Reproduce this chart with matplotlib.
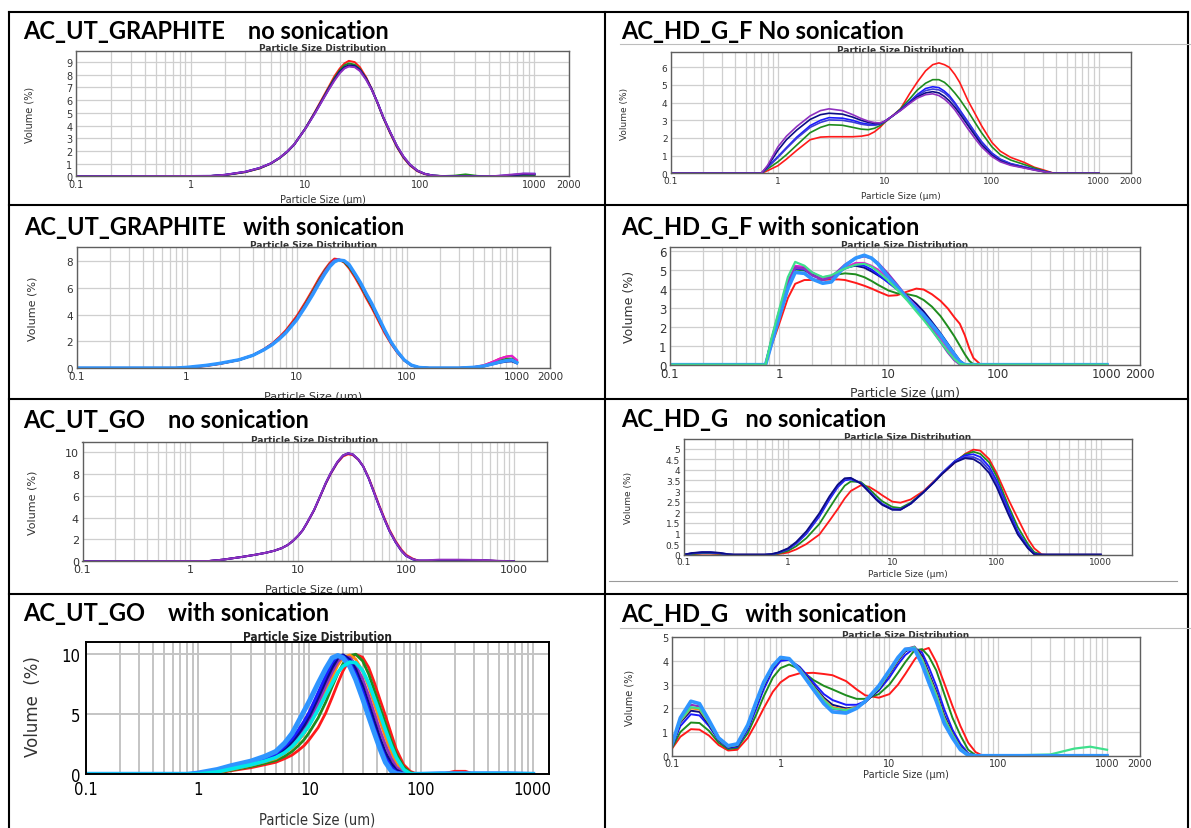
import matplotlib.pyplot as plt
from matplotlib.lines import Line2D
from matplotlib.ticker import FixedLocator, FuncFormatter, NullFormatter
from matplotlib.transforms import Bbox, TransformedBbox

# ---- AC_UT_GRAPHITE, no sonication -------------------------------------
g1 = [0.1, 1.5, 2, 3, 4, 5, 6, 7, 8, 10,
      12, 14, 16, 18, 20, 22, 24, 27, 30, 34,
      38, 43, 48, 55, 63, 72, 82, 95, 110, 130,
      160, 200, 250, 320, 450, 600, 800, 1000]
p1_red = [0, 0.02, 0.1, 0.33, 0.62, 1.0, 1.45, 1.95, 2.5, 3.75,
          5.0, 6.1, 7.05, 7.9, 8.5, 8.9, 9.1, 9.0, 8.6, 7.8,
          6.9, 5.7, 4.6, 3.4, 2.3, 1.45, 0.85, 0.4, 0.17, 0.05,
          0.01, 0, 0, 0, 0, 0, 0, 0]
p1_green = [0, 0.02, 0.1, 0.33, 0.63, 1.0, 1.45, 1.95, 2.5, 3.75,
            4.95, 6.0, 6.95, 7.75, 8.35, 8.75, 8.9, 8.8, 8.45, 7.7,
            6.85, 5.7, 4.6, 3.45, 2.35, 1.5, 0.9, 0.45, 0.2, 0.06,
            0.02, 0.05, 0.15, 0.03, 0, 0.02, 0.1, 0.1]
p1_blue = [0, 0.03, 0.12, 0.36, 0.66, 1.02, 1.47, 1.97, 2.5, 3.75,
           4.9, 5.95, 6.85, 7.6, 8.2, 8.55, 8.7, 8.65, 8.35, 7.65,
           6.85, 5.75, 4.65, 3.5, 2.4, 1.55, 0.92, 0.45, 0.2, 0.06,
           0.01, 0, 0, 0, 0.01, 0.08, 0.2, 0.2]
p1_navy = [0, 0.03, 0.11, 0.35, 0.65, 1.01, 1.46, 1.96, 2.5, 3.76,
           4.93, 5.98, 6.9, 7.65, 8.25, 8.6, 8.75, 8.7, 8.4, 7.7,
           6.87, 5.74, 4.63, 3.48, 2.38, 1.52, 0.9, 0.44, 0.19, 0.05,
           0.01, 0, 0, 0, 0, 0.05, 0.15, 0.15]
p1_purple = [0, 0.03, 0.12, 0.36, 0.66, 1.02, 1.47, 1.97, 2.5, 3.74,
             4.88, 5.92, 6.82, 7.55, 8.12, 8.5, 8.65, 8.6, 8.3, 7.6,
             6.82, 5.74, 4.65, 3.5, 2.42, 1.56, 0.93, 0.46, 0.2, 0.06,
             0.01, 0, 0, 0, 0.02, 0.12, 0.22, 0.2]

# ---- AC_HD_G_F, no sonication ------------------------------------------
g2 = [0.1, 0.7, 0.8, 1, 1.2, 1.5, 2, 2.5, 3, 4,
      5, 6, 7, 8, 9, 10, 12, 14, 17, 20,
      24, 28, 32, 36, 40, 45, 50, 60, 70, 80,
      100, 120, 150, 200, 250, 300, 380, 1000]
p2_red = [0, 0, 0.15, 0.43, 0.8, 1.3, 1.9, 2.05, 2.07, 2.07,
          2.07, 2.1, 2.17, 2.35, 2.6, 2.89, 3.3, 3.65, 4.5, 5.15,
          5.8, 6.15, 6.25, 6.15, 6.0, 5.6, 5.15, 4.1, 3.35, 2.7,
          1.75, 1.25, 0.9, 0.62, 0.34, 0.2, 0, 0]
p2_green = [0, 0, 0.25, 0.65, 1.05, 1.6, 2.3, 2.6, 2.75, 2.72,
            2.6, 2.5, 2.47, 2.55, 2.7, 2.9, 3.28, 3.65, 4.2, 4.7,
            5.1, 5.3, 5.3, 5.15, 4.9, 4.55, 4.2, 3.5, 2.85, 2.3,
            1.5, 1.05, 0.75, 0.5, 0.3, 0.15, 0, 0]
p2_blue = [0, 0, 0.35, 0.95, 1.45, 2.05, 2.7, 3.0, 3.15, 3.12,
           3.0, 2.85, 2.78, 2.75, 2.8, 2.95, 3.28, 3.6, 4.05, 4.45,
           4.8, 4.9, 4.85, 4.65, 4.4, 4.0, 3.6, 2.9, 2.3, 1.8,
           1.15, 0.8, 0.55, 0.37, 0.22, 0.12, 0, 0]
p2_royal = [0, 0, 0.33, 0.9, 1.4, 1.98, 2.6, 2.88, 3.02, 3.0,
            2.9, 2.78, 2.72, 2.72, 2.78, 2.93, 3.28, 3.58, 4.0, 4.38,
            4.68, 4.77, 4.72, 4.55, 4.3, 3.92, 3.52, 2.85, 2.25, 1.75,
            1.1, 0.77, 0.53, 0.36, 0.21, 0.11, 0, 0]
p2_navy = [0, 0, 0.4, 1.3, 1.9, 2.45, 3.05, 3.32, 3.4, 3.35,
           3.18, 3.0, 2.88, 2.82, 2.82, 2.95, 3.28, 3.57, 3.98, 4.32,
           4.55, 4.62, 4.55, 4.35, 4.1, 3.75, 3.38, 2.7, 2.12, 1.62,
           1.02, 0.7, 0.48, 0.32, 0.19, 0.1, 0, 0]
p2_purple = [0, 0, 0.45, 1.5, 2.1, 2.65, 3.25, 3.55, 3.65, 3.55,
             3.32, 3.1, 2.95, 2.87, 2.85, 2.95, 3.28, 3.55, 3.95, 4.25,
             4.45, 4.5, 4.4, 4.2, 3.95, 3.6, 3.2, 2.5, 1.95, 1.5,
             0.95, 0.65, 0.45, 0.3, 0.18, 0.1, 0, 0]

# ---- AC_UT_GRAPHITE, with sonication -----------------------------------
g3 = [0.1, 0.8, 1, 1.5, 2, 3, 4, 5, 6, 7,
      8, 10, 12, 14, 16, 18, 20, 22, 24, 27,
      30, 34, 38, 43, 48, 55, 63, 72, 82, 95,
      110, 130, 160, 200, 300, 400, 500, 600, 700, 800,
      900, 1000]
p3_red = [0, 0, 0.02, 0.15, 0.3, 0.6, 0.95, 1.4, 1.85, 2.35,
          2.85, 3.9, 4.95, 5.9, 6.75, 7.4, 7.9, 8.2, 8.15, 7.9,
          7.45, 6.75, 6.05, 5.2, 4.5, 3.55, 2.6, 1.8, 1.15, 0.55,
          0.2, 0.04, 0, 0, 0, 0.05, 0.2, 0.45, 0.7, 0.85,
          0.9, 0.55]
p3_green = [0, 0, 0.03, 0.17, 0.32, 0.6, 0.93, 1.35, 1.8, 2.28,
            2.75, 3.75, 4.8, 5.75, 6.6, 7.3, 7.8, 8.1, 8.12, 7.95,
            7.55, 6.9, 6.2, 5.35, 4.65, 3.7, 2.75, 1.9, 1.2, 0.58,
            0.2, 0.04, 0, 0, 0, 0.04, 0.15, 0.35, 0.55, 0.68,
            0.7, 0.45]
p3_navy = [0, 0, 0.03, 0.18, 0.33, 0.62, 0.96, 1.38, 1.8, 2.25,
           2.7, 3.68, 4.7, 5.62, 6.48, 7.2, 7.72, 8.05, 8.12, 8.0,
           7.65, 6.98, 6.3, 5.45, 4.72, 3.75, 2.78, 1.9, 1.2, 0.58,
           0.2, 0.03, 0, 0, 0, 0.03, 0.12, 0.28, 0.4, 0.48,
           0.5, 0.35]
p3_magenta = [0, 0, 0.03, 0.18, 0.33, 0.61, 0.95, 1.37, 1.8, 2.27,
              2.72, 3.7, 4.72, 5.65, 6.5, 7.22, 7.75, 8.08, 8.15, 8.02,
              7.68, 7.0, 6.32, 5.48, 4.78, 3.8, 2.82, 1.93, 1.22, 0.6,
              0.21, 0.04, 0, 0, 0, 0.05, 0.2, 0.45, 0.7, 0.85,
              0.92, 0.6]
p3_teal = [0, 0, 0.04, 0.19, 0.34, 0.62, 0.95, 1.36, 1.77, 2.22,
           2.68, 3.64, 4.65, 5.57, 6.42, 7.12, 7.66, 8.0, 8.1, 8.02,
           7.7, 7.02, 6.36, 5.52, 4.82, 3.82, 2.84, 1.94, 1.24, 0.6,
           0.22, 0.04, 0, 0, 0, 0.04, 0.14, 0.3, 0.45, 0.58,
           0.62, 0.42]
p3_sky = [0, 0, 0.05, 0.2, 0.35, 0.62, 0.95, 1.35, 1.75, 2.2,
          2.65, 3.6, 4.6, 5.5, 6.35, 7.05, 7.6, 7.95, 8.1, 8.05,
          7.75, 7.05, 6.4, 5.55, 4.85, 3.85, 2.85, 1.95, 1.25, 0.6,
          0.22, 0.04, 0, 0, 0, 0.05, 0.15, 0.3, 0.45, 0.55,
          0.6, 0.4]

# ---- AC_HD_G_F, with sonication ----------------------------------------
g4 = [0.1, 0.75, 0.85, 1, 1.2, 1.4, 1.7, 2, 2.5, 3,
      3.5, 4, 5, 6, 7, 8, 10, 12, 15, 18,
      21, 25, 30, 35, 40, 45, 50, 55, 60, 70,
      1000]
p4_red = [0, 0, 1.0, 2.15, 3.5, 4.25, 4.45, 4.45, 4.45, 4.48,
          4.48, 4.45, 4.3, 4.15, 4.0, 3.85, 3.62, 3.65, 3.85, 4.0,
          3.95, 3.7, 3.35, 2.95, 2.5, 2.15, 1.55, 0.85, 0.35, 0,
          0]
p4_green = [0, 0, 1.3, 2.7, 4.2, 5.0, 4.95, 4.75, 4.6, 4.65,
            4.75, 4.8, 4.75, 4.6, 4.4, 4.2, 3.9, 3.75, 3.7, 3.6,
            3.4, 3.05, 2.55, 2.0, 1.5, 1.0, 0.55, 0.2, 0.02, 0,
            0]
p4_lime = [0, 0, 1.4, 2.9, 4.6, 5.4, 5.2, 4.85, 4.6, 4.7,
           4.9, 5.05, 5.25, 5.3, 5.15, 4.9, 4.4, 3.95, 3.35, 2.8,
           2.35, 1.8, 1.2, 0.7, 0.3, 0.05, 0, 0, 0, 0,
           0]
p4_blue = [0, 0, 1.3, 2.75, 4.3, 5.05, 5.0, 4.7, 4.5, 4.6,
           4.85, 5.05, 5.25, 5.2, 5.0, 4.75, 4.3, 3.95, 3.5, 3.05,
           2.65, 2.1, 1.5, 0.95, 0.5, 0.15, 0, 0, 0, 0,
           0]
p4_navy = [0, 0, 1.25, 2.7, 4.3, 5.15, 5.1, 4.8, 4.55, 4.65,
           4.9, 5.1, 5.2, 5.1, 4.9, 4.7, 4.35, 4.0, 3.6, 3.2,
           2.8, 2.25, 1.65, 1.1, 0.62, 0.22, 0.02, 0, 0, 0,
           0]
p4_magenta = [0, 0, 1.2, 2.65, 4.2, 5.2, 5.15, 4.85, 4.55, 4.6,
              4.85, 5.1, 5.35, 5.35, 5.2, 5.0, 4.55, 4.1, 3.55, 3.05,
              2.6, 2.0, 1.4, 0.85, 0.4, 0.08, 0, 0, 0, 0,
              0]
p4_purple = [0, 0, 1.3, 2.8, 4.35, 5.1, 5.05, 4.7, 4.45, 4.6,
             4.95, 5.25, 5.6, 5.7, 5.6, 5.35, 4.75, 4.2, 3.5, 2.95,
             2.45, 1.85, 1.2, 0.65, 0.25, 0.02, 0, 0, 0, 0,
             0]
p4_sky = [0, 0, 1.1, 2.5, 4.0, 4.85, 4.8, 4.5, 4.28, 4.35,
          4.8, 5.2, 5.6, 5.75, 5.6, 5.3, 4.6, 4.1, 3.45, 2.95,
          2.6, 2.1, 1.55, 1.0, 0.55, 0.15, 0, 0, 0, 0,
          0]

# ---- AC_UT_GO, no sonication -------------------------------------------
g5 = [0.1, 1.5, 2, 3, 4, 5, 6, 7, 8, 9,
      10, 11, 12, 14, 16, 18, 20, 23, 26, 29,
      32, 36, 40, 45, 50, 56, 63, 70, 80, 90,
      100, 115, 130, 160, 200, 300, 500, 700, 1000]
p5_red = [0, 0.03, 0.15, 0.4, 0.6, 0.78, 0.97, 1.2, 1.5, 1.9,
          2.35, 2.85, 3.45, 4.65, 5.95, 7.1, 8.0, 9.0, 9.6, 9.8,
          9.72, 9.3, 8.7, 7.65, 6.5, 5.2, 3.95, 2.9, 1.85, 1.1,
          0.6, 0.25, 0.05, 0.02, 0.08, 0.1, 0.08, 0.03, 0]
p5_blue = [0, 0.03, 0.15, 0.4, 0.6, 0.78, 0.97, 1.2, 1.5, 1.9,
           2.35, 2.85, 3.48, 4.68, 5.98, 7.15, 8.05, 9.05, 9.68, 9.88,
           9.78, 9.32, 8.68, 7.58, 6.38, 5.08, 3.83, 2.78, 1.73, 0.98,
           0.49, 0.18, 0.05, 0.05, 0.1, 0.12, 0.08, 0.02, 0]
p5_navy = [0, 0.03, 0.15, 0.4, 0.6, 0.78, 0.97, 1.2, 1.5, 1.9,
           2.35, 2.85, 3.49, 4.69, 5.99, 7.18, 8.08, 9.08, 9.7, 9.9,
           9.8, 9.34, 8.69, 7.59, 6.39, 5.09, 3.84, 2.79, 1.74, 0.99,
           0.5, 0.19, 0.06, 0.06, 0.1, 0.12, 0.1, 0.03, 0]
p5_purple = [0, 0.03, 0.15, 0.4, 0.6, 0.78, 0.97, 1.2, 1.5, 1.9,
             2.35, 2.85, 3.5, 4.7, 6.0, 7.2, 8.1, 9.1, 9.7, 9.9,
             9.8, 9.35, 8.7, 7.6, 6.4, 5.1, 3.85, 2.8, 1.75, 1.0,
             0.5, 0.2, 0.08, 0.1, 0.15, 0.15, 0.12, 0.05, 0]

# ---- AC_HD_G, no sonication --------------------------------------------
g6 = [0.1, 0.12, 0.15, 0.18, 0.22, 0.27, 0.3, 0.6, 0.7, 0.8,
      1, 1.2, 1.5, 2, 2.5, 3, 3.5, 4, 5, 6,
      7, 8, 10, 12, 15, 20, 25, 30, 40, 50,
      60, 70, 85, 100, 130, 160, 200, 230, 270, 300,
      1000]
p6_red = [0, 0.02, 0.05, 0.05, 0.03, 0, 0, 0, 0, 0.03,
          0.1, 0.25, 0.5, 0.95, 1.6, 2.15, 2.65, 3.0, 3.27, 3.2,
          3.0, 2.8, 2.5, 2.45, 2.6, 3.0, 3.45, 3.8, 4.35, 4.75,
          4.95, 4.9, 4.5, 3.85, 2.6, 1.7, 0.75, 0.3, 0.02, 0,
          0]
p6_green = [0, 0.03, 0.07, 0.07, 0.05, 0.01, 0, 0, 0.01, 0.05,
            0.18, 0.4, 0.78, 1.45, 2.2, 2.8, 3.25, 3.45, 3.42, 3.1,
            2.78, 2.52, 2.25, 2.2, 2.45, 2.95, 3.42, 3.82, 4.4, 4.72,
            4.85, 4.75, 4.35, 3.7, 2.3, 1.3, 0.5, 0.12, 0, 0,
            0]
p6_blue = [0, 0.06, 0.1, 0.1, 0.07, 0.01, 0, 0, 0.02, 0.08,
           0.25, 0.52, 0.98, 1.8, 2.6, 3.18, 3.5, 3.55, 3.38, 3.0,
           2.65, 2.4, 2.15, 2.13, 2.4, 2.95, 3.42, 3.85, 4.42, 4.68,
           4.73, 4.6, 4.15, 3.5, 2.15, 1.1, 0.38, 0.05, 0, 0,
           0]
p6_royal = [0, 0.07, 0.11, 0.11, 0.08, 0.02, 0, 0, 0.03, 0.09,
            0.28, 0.56, 1.04, 1.88, 2.68, 3.25, 3.56, 3.6, 3.37, 2.98,
            2.62, 2.37, 2.13, 2.12, 2.4, 2.95, 3.41, 3.82, 4.38, 4.6,
            4.6, 4.45, 4.0, 3.35, 2.0, 1.0, 0.33, 0.03, 0, 0,
            0]
p6_navy = [0, 0.08, 0.12, 0.12, 0.09, 0.02, 0, 0, 0.03, 0.1,
           0.3, 0.6, 1.1, 1.95, 2.75, 3.3, 3.6, 3.62, 3.35, 2.95,
           2.6, 2.35, 2.12, 2.12, 2.4, 2.95, 3.4, 3.8, 4.35, 4.55,
           4.5, 4.3, 3.85, 3.2, 1.9, 0.95, 0.3, 0.02, 0, 0,
           0]

# ---- AC_UT_GO, with sonication -----------------------------------------
g7 = [0.1, 0.8, 1, 1.5, 2, 3, 4, 5, 6, 7,
      8, 9, 10, 12, 14, 16, 18, 20, 23, 26,
      30, 34, 38, 43, 48, 54, 60, 70, 80, 90,
      100, 150, 200, 250, 300, 600, 1000]
p7_red = [0, 0, 0, 0.1, 0.3, 0.55, 0.8, 1.0, 1.3, 1.6,
          2.0, 2.4, 2.9, 3.9, 5.1, 6.4, 7.6, 8.6, 9.6, 10.0,
          9.75, 8.9, 7.7, 6.2, 4.9, 3.4, 2.1, 0.8, 0.25, 0.05,
          0, 0, 0.25, 0.25, 0, 0, 0]
p7_green = [0, 0, 0, 0.12, 0.35, 0.65, 0.92, 1.15, 1.5, 1.9,
            2.4, 2.9, 3.5, 4.7, 6.0, 7.3, 8.4, 9.2, 9.9, 10.0,
            9.45, 8.35, 7.05, 5.55, 4.25, 2.8, 1.7, 0.6, 0.15, 0.02,
            0, 0, 0, 0, 0, 0, 0]
p7_orange = [0, 0, 0, 0.15, 0.4, 0.75, 1.05, 1.3, 1.75, 2.2,
             2.8, 3.4, 4.1, 5.5, 6.9, 8.1, 9.1, 9.7, 9.95, 9.6,
             8.6, 7.3, 5.9, 4.4, 3.1, 1.85, 0.95, 0.25, 0.03, 0,
             0, 0, 0, 0, 0, 0, 0]
p7_purple = [0, 0, 0.03, 0.2, 0.45, 0.8, 1.1, 1.4, 1.9, 2.45,
             3.1, 3.75, 4.45, 5.95, 7.35, 8.5, 9.4, 9.8, 9.75, 9.15,
             7.95, 6.55, 5.15, 3.65, 2.45, 1.35, 0.62, 0.12, 0, 0,
             0, 0, 0, 0, 0, 0, 0]
p7_navy = [0, 0, 0.05, 0.25, 0.5, 0.85, 1.2, 1.55, 2.1, 2.7,
           3.4, 4.1, 4.85, 6.4, 7.8, 8.9, 9.7, 9.95, 9.55, 8.75,
           7.35, 5.85, 4.45, 2.95, 1.8, 0.9, 0.35, 0.05, 0, 0,
           0, 0, 0, 0, 0, 0, 0]
p7_blue = [0, 0, 0.07, 0.3, 0.6, 0.95, 1.3, 1.7, 2.3, 2.95,
           3.7, 4.45, 5.2, 6.8, 8.2, 9.3, 9.9, 9.85, 9.35, 8.35,
           6.9, 5.35, 3.9, 2.5, 1.4, 0.6, 0.2, 0, 0, 0,
           0, 0, 0, 0, 0, 0, 0]
p7_sky = [0, 0, 0.1, 0.4, 0.72, 1.1, 1.5, 1.9, 2.6, 3.4,
          4.4, 5.3, 6.1, 7.6, 8.8, 9.7, 9.9, 9.7, 9.0, 7.9,
          6.3, 4.8, 3.5, 2.1, 1.0, 0.3, 0.05, 0, 0, 0,
          0, 0.05, 0.05, 0.05, 0.05, 0.05, 0]
p7_cyan = [0, 0, 0.02, 0.2, 0.45, 0.8, 1.1, 1.4, 1.8, 2.3,
           2.9, 3.5, 4.1, 5.4, 6.6, 7.6, 8.5, 9.0, 9.35, 9.3,
           8.65, 7.6, 6.4, 5.0, 3.7, 2.4, 1.4, 0.4, 0.05, 0,
           0, 0, 0, 0, 0, 0, 0]

# ---- AC_HD_G, with sonication ------------------------------------------
g8 = [0.1, 0.12, 0.15, 0.18, 0.22, 0.27, 0.33, 0.4, 0.5, 0.6,
      0.7, 0.85, 1, 1.2, 1.5, 2, 2.5, 3, 4, 5,
      6, 8, 10, 12, 14, 17, 20, 23, 27, 32,
      38, 45, 53, 62, 72, 100, 300, 500, 700, 1000]
p8_red = [0.28, 0.8, 1.12, 1.1, 0.85, 0.45, 0.22, 0.25, 0.75, 1.4,
          2.0, 2.7, 3.1, 3.35, 3.48, 3.5, 3.45, 3.4, 3.15, 2.8,
          2.55, 2.45, 2.6, 3.0, 3.45, 4.05, 4.45, 4.55, 3.95, 3.05,
          2.1, 1.25, 0.55, 0.15, 0, 0, 0, 0, 0, 0]
p8_green = [0.3, 1.0, 1.4, 1.38, 1.05, 0.55, 0.28, 0.33, 0.95, 1.75,
            2.5, 3.3, 3.7, 3.85, 3.65, 3.2, 2.95, 2.8, 2.55, 2.4,
            2.4, 2.6, 3.0, 3.5, 3.95, 4.45, 4.5, 4.2, 3.6, 2.6,
            1.6, 0.85, 0.25, 0.02, 0, 0, 0, 0, 0, 0]
p8_blue = [0.35, 1.25, 1.75, 1.7, 1.25, 0.65, 0.33, 0.38, 1.1, 2.0,
           2.8, 3.6, 4.0, 4.05, 3.75, 3.1, 2.6, 2.35, 2.15, 2.15,
           2.3, 2.75, 3.3, 3.85, 4.25, 4.55, 4.35, 3.75, 2.95, 1.95,
           1.1, 0.5, 0.1, 0, 0, 0, 0, 0, 0, 0]
p8_navy = [0.38, 1.4, 1.9, 1.85, 1.32, 0.68, 0.36, 0.42, 1.2, 2.15,
           2.95, 3.7, 4.1, 4.08, 3.7, 2.98, 2.45, 2.15, 2.0, 2.05,
           2.25, 2.8, 3.45, 4.0, 4.4, 4.6, 4.2, 3.5, 2.7, 1.7,
           0.95, 0.38, 0.06, 0, 0, 0, 0, 0, 0, 0]
p8_orange = [0.4, 1.45, 2.0, 1.95, 1.38, 0.7, 0.38, 0.45, 1.22, 2.2,
             3.0, 3.75, 4.12, 4.1, 3.68, 2.92, 2.38, 2.05, 1.95, 2.05,
             2.28, 2.85, 3.5, 4.05, 4.45, 4.6, 4.1, 3.4, 2.6, 1.6,
             0.9, 0.33, 0.05, 0, 0, 0, 0, 0, 0, 0]
p8_purple = [0.42, 1.5, 2.15, 2.08, 1.42, 0.72, 0.4, 0.47, 1.25, 2.25,
             3.05, 3.78, 4.15, 4.1, 3.65, 2.88, 2.3, 1.98, 1.9, 2.02,
             2.28, 2.88, 3.55, 4.1, 4.5, 4.6, 4.05, 3.3, 2.5, 1.5,
             0.85, 0.3, 0.04, 0, 0, 0, 0, 0, 0, 0]
p8_lime = [0.4, 1.48, 2.05, 2.0, 1.4, 0.71, 0.39, 0.46, 1.24, 2.22,
           3.02, 3.76, 4.13, 4.1, 3.66, 2.9, 2.34, 2.0, 1.92, 2.03,
           2.28, 2.86, 3.52, 4.08, 4.48, 4.58, 4.05, 3.35, 2.55, 1.55,
           0.88, 0.32, 0.05, 0, 0, 0, 0.05, 0.3, 0.38, 0.25]
p8_sky = [0.45, 1.6, 2.3, 2.2, 1.5, 0.75, 0.42, 0.5, 1.3, 2.3,
          3.1, 3.8, 4.15, 4.1, 3.6, 2.8, 2.2, 1.85, 1.8, 2.0,
          2.3, 2.95, 3.6, 4.15, 4.5, 4.5, 3.85, 3.1, 2.3, 1.35,
          0.75, 0.25, 0.02, 0, 0, 0, 0, 0, 0, 0]

RED, GREEN, BLUE, NAVY = '#ff1a1a', '#1e8c1e', '#1a1aff', '#0c0c85'
PURPLE, MAGENTA, ROYAL = '#9030c0', '#e020d0', '#3c3cd8'
SKY, CYAN, TEAL, ORANGE, LIME = '#2f95ff', '#00e8e8', '#20a8a0', '#ff8c10', '#3ee08c'

W, H = 1191, 829
fig = plt.figure(figsize=(W / 100, H / 100), dpi=100)
fig.patch.set_facecolor('white')

TITLE_FONT = ['Lato', 'DejaVu Sans']
INK = '#333333'


def text_px(x, y, s, **kw):
    return fig.text(x / W, 1 - y / H, s, **kw)


def line_px(xs, ys, color='black', lw=1.5):
    fig.add_artist(Line2D([x / W for x in xs], [1 - y / H for y in ys],
                          color=color, lw=lw, transform=fig.transFigure))


def psd_axes(box, ylim, yticks, xmax=2000, show_2000=True, fs=7,
             frame='#5f5f5f', frame_lw=1.0, grid_lw=0.9, grid_color='#cfcfcf'):
    x0, y0, x1, y1 = box
    ax = fig.add_axes([x0 / W, 1 - y1 / H, (x1 - x0) / W, (y1 - y0) / H])
    ax.set_xscale('log')
    ax.set_xlim(0.1, xmax)
    ax.set_ylim(*ylim)
    majors = [0.1, 1, 10, 100, 1000] + ([2000] if show_2000 else [])
    minors = [m * 10.0 ** e for e in range(-1, 4) for m in range(2, 10)
              if m * 10.0 ** e < xmax]
    ax.xaxis.set_major_locator(FixedLocator(majors))
    ax.xaxis.set_minor_locator(FixedLocator(minors))
    ax.xaxis.set_major_formatter(FuncFormatter(lambda v, p: f'{v:g}'))
    ax.xaxis.set_minor_formatter(NullFormatter())
    ax.yaxis.set_major_locator(FixedLocator(yticks))
    ax.yaxis.set_major_formatter(FuncFormatter(lambda v, p: f'{v:g}'))
    ax.grid(True, which='both', axis='x', color=grid_color, lw=grid_lw)
    ax.grid(True, which='major', axis='y', color=grid_color, lw=grid_lw)
    ax.set_axisbelow(True)
    ax.tick_params(which='both', length=0, labelsize=fs, colors=INK)
    ax.tick_params(axis='x', pad=2)
    ax.tick_params(axis='y', pad=2.5)
    for s in ax.spines.values():
        s.set_color(frame)
        s.set_linewidth(frame_lw)
    return ax


def annotate(box, xlab_y, ylab_x, fs, psd_y, psd_fs=6.5, xlab='Particle Size (µm)',
             clip_below=None):
    x0, y0, x1, y1 = box
    cx = (x0 + x1) / 2
    t = text_px(cx, xlab_y, xlab, fontsize=fs, color=INK, ha='center', va='center')
    if clip_below is not None:
        t.set_clip_box(TransformedBbox(Bbox.from_extents(0, 1 - clip_below / H, 1, 1),
                                       fig.transFigure))
        t.set_clip_on(True)
    text_px(ylab_x, (y0 + y1) / 2, 'Volume (%)', fontsize=fs, color=INK,
            rotation=90, ha='center', va='center')
    text_px(cx, psd_y, 'Particle Size Distribution', fontsize=psd_fs,
            fontweight='bold', color=INK, ha='center', va='center', zorder=-1)


def title(x, y, s):
    text_px(x, y, s, fontsize=17, fontweight='bold', family=TITLE_FONT,
            color='black', ha='left', va='baseline')


# table frame
line_px([8.5, 1188], [12.5, 12.5])
for yy in (206, 400, 595):
    line_px([8.5, 1188], [yy, yy])
for xx in (8.5, 605, 1188):
    line_px([xx, xx], [12.5, 829])
line_px([620, 1191], [45, 45], color='#bdbdbd', lw=0.8)
line_px([609, 1177], [581.7, 581.7], color='#9a9a9a', lw=0.8)
line_px([620, 1191], [629.3, 629.3], color='#bdbdbd', lw=0.8)

# panel 1
b = (76, 51.7, 569, 177.3)
ax = psd_axes(b, (0, 9.9), range(10))
for y, c in [(p1_red, RED), (p1_green, GREEN), (p1_blue, BLUE),
             (p1_navy, NAVY), (p1_purple, PURPLE)]:
    ax.plot(g1, y, color=c, lw=1.4)
annotate(b, 200, 29, 7, 48.6)
title(22.7, 39.3, 'AC_UT_GRAPHITE    no sonication')

# panel 2
b = (671, 53.3, 1131, 174.3)
ax = psd_axes(b, (0, 6.85), range(7), fs=6.5)
for y, c in [(p2_red, RED), (p2_green, GREEN), (p2_blue, BLUE),
             (p2_royal, ROYAL), (p2_navy, NAVY), (p2_purple, PURPLE)]:
    ax.plot(g2, y, color=c, lw=1.2)
annotate(b, 196.7, 625, 6.5, 50.5)
title(620.7, 39.3, 'AC_HD_G_F No sonication')

# panel 3
b = (76.5, 248.3, 550, 369)
ax = psd_axes(b, (0, 9.05), [0, 2, 4, 6, 8], fs=7.5)
for y, c, w in [(p3_red, RED, 1.5), (p3_green, GREEN, 1.5), (p3_navy, NAVY, 1.5),
                (p3_magenta, MAGENTA, 1.5), (p3_teal, TEAL, 1.5), (p3_sky, SKY, 2.4)]:
    ax.plot(g3, y, color=c, lw=w)
annotate(b, 397, 32.5, 8, 245.5, clip_below=400)
title(23.7, 235, 'AC_UT_GRAPHITE   with sonication')

# panel 4
b = (670, 247.7, 1139.8, 365.7)
ax = psd_axes(b, (0, 6.2), range(7), fs=8.5)
for y, c, w in [(p4_red, RED, 1.4), (p4_green, GREEN, 1.4), (p4_navy, NAVY, 1.4),
                (p4_blue, BLUE, 1.4), (p4_magenta, MAGENTA, 1.4),
                (p4_purple, PURPLE, 1.8), (p4_sky, SKY, 2.6), (p4_lime, LIME, 1.6)]:
    ax.plot(g4, y, color=c, lw=w)
annotate(b, 393.5, 630, 9, 245, clip_below=399)
title(620.7, 235, 'AC_HD_G_F with sonication')

# panel 5
b = (82.5, 443.3, 546.5, 562.3)
ax = psd_axes(b, (0, 10.9), [0, 2, 4, 6, 8, 10], show_2000=False, fs=8)
for y, c in [(p5_red, RED), (p5_blue, BLUE), (p5_navy, NAVY), (p5_purple, PURPLE)]:
    ax.plot(g5, y, color=c, lw=1.4)
annotate(b, 590, 32.5, 8, 440.5)
title(22.7, 428, 'AC_UT_GO    no sonication')

# panel 6
b = (683.7, 440, 1132.2, 555.7)
ax = psd_axes(b, (0, 5.45), [i / 2 for i in range(11)], show_2000=False, fs=6.5)
for y, c in [(p6_red, RED), (p6_green, GREEN), (p6_blue, BLUE),
             (p6_royal, ROYAL), (p6_navy, NAVY)]:
    ax.plot(g6, y, color=c, lw=1.3)
annotate(b, 575, 628, 6.5, 437.3)
title(620.7, 426.7, 'AC_HD_G   no sonication')

# panel 7 (exported from a different version of the software: heavier style)
b = (86, 643.3, 549, 775.3)
ax = psd_axes(b, (0, 11), [0, 5, 10], xmax=1400, show_2000=False, fs=12,
              frame='black', frame_lw=1.4, grid_lw=1.4, grid_color='#c4c4c4')
narrow = dict(family='DejaVu Sans', fontstretch='condensed')
ax.set_xticks([0.1, 1, 10, 100, 1000], labels=['0.1', '1', '10', '100', '1000'],
              fontsize=12, color='black', **narrow)
ax.set_yticks([0, 5, 10], labels=['0', '5', '10'], fontsize=12, color='black', **narrow)
ax.tick_params(axis='x', pad=4)
ax.tick_params(axis='y', pad=4)
for y, c, w in [(p7_red, RED, 2.0), (p7_green, GREEN, 2.0), (p7_orange, ORANGE, 2.0),
                (p7_purple, PURPLE, 2.0), (p7_navy, NAVY, 2.2), (p7_blue, BLUE, 2.2),
                (p7_sky, SKY, 3.6), (p7_cyan, CYAN, 2.6)]:
    ax.plot(g7, y, color=c, lw=w)
cx = (b[0] + b[2]) / 2
text_px(cx, 820, 'Particle Size (um)', fontsize=10.5, color=INK,
        ha='center', va='center', **narrow)
text_px(33, 707, 'Volume  (%)', fontsize=12, color=INK, rotation=90,
        ha='center', va='center')
text_px(cx, 638, 'Particle Size Distribution', fontsize=8.5, fontweight='bold',
        color='#222222', ha='center', va='center', zorder=-1, **narrow)
title(22.7, 620.7, 'AC_UT_GO    with sonication')

# panel 8
b = (671.7, 638.3, 1139.8, 756.7)
ax = psd_axes(b, (0, 5), range(6), fs=7)
for y, c, w in [(p8_red, RED, 1.4), (p8_green, GREEN, 1.4), (p8_blue, BLUE, 1.4),
                (p8_navy, NAVY, 1.4), (p8_orange, ORANGE, 1.4), (p8_purple, PURPLE, 1.6),
                (p8_lime, LIME, 1.6), (p8_sky, SKY, 2.6)]:
    ax.plot(g8, y, color=c, lw=w)
annotate(b, 775, 630, 7, 635)
title(620.7, 621.7, 'AC_HD_G   with sonication')

fig.savefig('out.png', dpi=100, facecolor='white')
